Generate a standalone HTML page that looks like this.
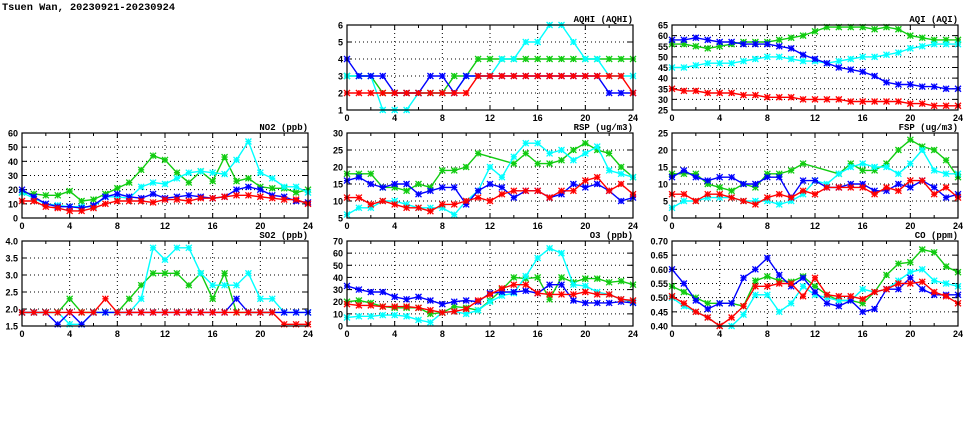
<!DOCTYPE html>
<html><head><meta charset="utf-8"><style>
body{margin:0;background:#fff;width:975px;height:447px;overflow:hidden}
svg{display:block;font-family:"Liberation Sans",sans-serif}
</style></head><body>
<svg id="c" width="975" height="447">
<text x="2" y="10" font-size="10.3" font-weight="bold" font-family="Liberation Mono, monospace">Tsuen Wan, 20230921-20230924</text>
</svg>
<script>
const hours=[0,1,2,3,4,5,6,7,8,9,10,11,12,13,14,15,16,17,18,19,20,21,22,23,24];
const xTicks=[0,4,8,12,16,20,24];
const colors={blue:"#0000ff",green:"#11cc11",cyan:"#00ffff",red:"#ff0000"};
const N=null;
// AQHI
const aqhiBlue=[4,3,3,3,2,2,2,3,3,2,3,3,3,3,3,3,3,3,3,3,3,3,2,2,2];
const aqhiGreen=[3,3,3,2,2,2,2,2,2,3,3,4,4,4,4,4,4,4,4,4,4,4,4,4,4];
const aqhiCyan=[3,3,3,1,1,1,2,2,2,2,3,3,3,4,4,5,5,6,6,5,4,4,3,3,3];
const aqhiRed=[2,2,2,2,2,2,2,2,2,2,2,3,3,3,3,3,3,3,3,3,3,3,3,3,2];
const aqhiTicks=[1,2,3,4,5,6];
// AQI
const aqiBlue=[58,58,59,58,57,57,56,56,56,55,54,51,49,47,45,44,43,41,38,37,37,36,36,35,35];
const aqiGreen=[56,56,55,54,55,56,57,57,57,58,59,60,62,64,64,64,64,63,64,63,60,59,58,58,58];
const aqiCyan=[45,45,46,47,47,47,48,49,50,50,49,48,48,47,48,49,50,50,51,52,54,55,56,56,56];
const aqiRed=[35,34,34,33,33,33,32,32,31,31,31,30,30,30,30,29,29,29,29,29,28,28,27,27,27];
const aqiTicks=[25,30,35,40,45,50,55,60,65];
// NO2
const no2Blue=[20,15,10,8,8,7,9,15,17,15,14,17,14,15,16,15,14,15,20,22,20,16,15,12,11];
const no2Green=[18,17,16,16,19,12,13,17,21,25,34,44,41,32,25,33,26,43,26,28,22,21,21,18,20];
const no2Cyan=[18,14,10,9,8,8,8,15,15,14,22,25,24,28,32,33,32,31,41,54,32,28,22,22,18];
const no2Red=[12,12,8,7,5,5,7,10,12,12,12,11,13,13,12,14,14,15,16,16,15,14,13,13,10];
const no2Ticks=[0,10,20,30,40,50,60];
// RSP
const rspBlue=[16,17,15,14,15,15,12,13,14,14,9,13,15,14,11,13,13,11,12,15,14,15,13,10,11];
const rspGreen=[18,18,18,14,14,13,15,14,19,19,20,24,N,N,21,24,21,21,22,25,27,25,24,20,17];
const rspCyan=[6,8,8,10,10,9,8,8,8,6,10,13,20,17,23,27,27,24,25,22,24,26,19,18,17];
const rspRed=[11,11,9,10,9,8,8,7,9,9,10,11,10,12,13,13,13,11,13,13,16,17,13,15,12];
const rspTicks=[5,10,15,20,25,30];
// FSP
const fspBlue=[12,14,12,11,12,12,10,10,12,12,6,11,11,9,9,10,10,8,8,10,9,11,9,6,7];
const fspGreen=[13,13,13,10,9,8,10,9,13,13,14,16,N,N,13,16,14,14,16,20,23,21,20,17,12];
const fspCyan=[3,5,5,6,6,6,5,5,5,4,5,7,11,10,13,15,16,15,15,13,16,20,14,13,13];
const fspRed=[7,7,5,7,7,6,5,4,6,7,6,8,7,9,9,9,9,7,9,8,11,11,7,9,6];
const fspTicks=[0,5,10,15,20,25];
// SO2
const so2Blue=[1.9,1.9,1.9,1.55,1.9,1.55,1.9,1.9,1.9,1.9,1.9,1.9,1.9,1.9,1.9,1.9,1.9,1.9,2.3,1.9,1.9,1.9,1.9,1.9,1.9];
const so2Green=[1.9,1.9,1.9,1.9,2.3,1.9,1.9,1.9,1.9,2.3,2.7,3.05,3.05,3.05,2.7,3.05,2.3,3.05,1.9,1.9,1.9,1.9,N,N,N];
const so2Cyan=[1.9,1.9,1.9,1.9,1.55,1.55,1.9,1.9,1.9,1.9,2.3,3.8,3.45,3.8,3.8,3.05,2.7,2.7,2.7,3.05,2.3,2.3,1.9,1.9,1.9];
const so2Red=[1.9,1.9,1.9,1.9,1.9,1.9,1.9,2.3,1.9,1.9,1.9,1.9,1.9,1.9,1.9,1.9,1.9,1.9,1.9,1.9,1.9,1.9,1.55,1.55,1.55];
const so2Ticks=[1.5,2.0,2.5,3.0,3.5,4.0];
// O3
const o3Blue=[33,30,28,28,24,22,24,21,18,20,21,20,27,28,28,29,27,34,34,21,19,19,19,20,19];
const o3Green=[20,21,19,16,15,15,15,10,11,16,15,13,21,30,40,39,40,22,40,36,39,39,36,37,34];
const o3Cyan=[7,8,8,9,9,8,5,3,11,12,10,13,20,25,27,41,56,64,60,34,33,28,26,22,20];
const o3Red=[18,17,17,16,16,16,15,13,11,12,14,21,26,31,34,34,27,26,26,26,28,26,26,22,21];
const o3Ticks=[0,10,20,30,40,50,60,70];
// CO
const coBlue=[0.60,0.55,0.49,0.46,0.48,0.48,0.57,0.60,0.64,0.58,0.54,0.57,0.52,0.48,0.47,0.49,0.45,0.46,0.53,0.53,0.57,0.53,0.51,0.51,0.51];
const coGreen=[0.54,0.52,0.50,0.48,0.48,0.48,0.47,0.56,0.575,0.56,0.556,0.575,0.54,0.51,0.49,0.49,0.48,0.52,0.58,0.62,0.625,0.67,0.66,0.61,0.59];
const coCyan=[0.50,0.47,0.45,0.43,0.40,0.40,0.44,0.51,0.51,0.45,0.48,0.54,0.51,0.50,0.49,0.49,0.53,0.52,0.53,0.56,0.59,0.60,0.56,0.55,0.54];
const coRed=[0.505,0.48,0.45,0.43,0.40,0.43,0.47,0.54,0.54,0.55,0.55,0.505,0.57,0.51,0.505,0.505,0.495,0.52,0.53,0.55,0.55,0.556,0.52,0.505,0.48];
const coTicks=[0.40,0.45,0.50,0.55,0.60,0.65,0.70];

const svg=document.getElementById('c');
const NS="http://www.w3.org/2000/svg";
function mk(tag,attrs,parent){const e=document.createElementNS(NS,tag);for(const k in attrs)e.setAttribute(k,attrs[k]);(parent||svg).appendChild(e);return e;}

const panels=[
 {id:"aqhi",title:"AQHI (AQHI)",x:347,y:25,ticks:aqhiTicks,dec:0,series:[aqhiGreen,aqhiCyan,aqhiBlue,aqhiRed]},
 {id:"aqi",title:"AQI (AQI)",x:672,y:25,ticks:aqiTicks,dec:0,series:[aqiGreen,aqiCyan,aqiBlue,aqiRed]},
 {id:"no2",title:"NO2 (ppb)",x:22,y:133,ticks:no2Ticks,dec:0,series:[no2Green,no2Cyan,no2Blue,no2Red]},
 {id:"rsp",title:"RSP (ug/m3)",x:347,y:133,ticks:rspTicks,dec:0,series:[rspGreen,rspCyan,rspBlue,rspRed]},
 {id:"fsp",title:"FSP (ug/m3)",x:672,y:133,ticks:fspTicks,dec:0,series:[fspGreen,fspCyan,fspBlue,fspRed]},
 {id:"so2",title:"SO2 (ppb)",x:22,y:241,ticks:so2Ticks,dec:1,series:[so2Green,so2Cyan,so2Blue,so2Red]},
 {id:"o3",title:"O3 (ppb)",x:347,y:241,ticks:o3Ticks,dec:0,series:[o3Green,o3Cyan,o3Blue,o3Red]},
 {id:"co",title:"CO (ppm)",x:672,y:241,ticks:coTicks,dec:2,series:[coGreen,coCyan,coBlue,coRed]}
];
const sNames=["green","cyan","blue","red"];
const W=286,H=85;
panels.forEach(p=>{
 const g=mk('g',{});
 
 
 const y0=p.ticks[0],y1=p.ticks[p.ticks.length-1];
 const xs=h=>p.x+h/24*W;
 const ys=v=>p.y+H-(v-y0)/(y1-y0)*H;
 p.ticks.forEach((t,i)=>{
  if(i>0&&i<p.ticks.length-1){const l=mk('line',{x1:p.x,x2:p.x+W,y1:ys(t),y2:ys(t),stroke:"#000","stroke-width":1,"stroke-dasharray":"1,3"},g);}
  const tl=mk('text',{x:p.x-4,y:ys(t)+3.5,"font-size":9,"font-weight":"bold","text-anchor":"end"},g);
  
  
  tl.textContent=t.toFixed(p.dec);
  mk('line',{x1:p.x,x2:p.x+5,y1:ys(t),y2:ys(t),stroke:"#000"},g);
  mk('line',{x1:p.x+W-5,x2:p.x+W,y1:ys(t),y2:ys(t),stroke:"#000"},g);
 });
 for(let h=2;h<24;h+=2){
  const len=(h%4===0)?5:3;
  mk('line',{x1:xs(h),x2:xs(h),y1:p.y+H,y2:p.y+H-len,stroke:"#000"},g);
  mk('line',{x1:xs(h),x2:xs(h),y1:p.y,y2:p.y+len,stroke:"#000"},g);
 }
 xTicks.forEach(t=>{
  if(t>0&&t<24){const l=mk('line',{x1:xs(t),x2:xs(t),y1:p.y,y2:p.y+H,stroke:"#000","stroke-dasharray":"1,3"},g);}
  const tl=mk('text',{x:xs(t),y:p.y+H+11,"font-size":9,"font-weight":"bold","text-anchor":"middle"},g);
  
  
  tl.textContent=t;
 });
 const tt=mk('text',{x:p.x+W,y:p.y-3,"font-size":9,"font-weight":"bold","text-anchor":"end","font-family":"Liberation Mono, monospace"},g);
 
 
 tt.textContent=p.title;
 p.series.forEach((arr,si)=>{
  const col=colors[sNames[si]];
  const sg=mk('g',{},g);
  
  
  let d="";
  arr.forEach((v,i)=>{if(v===null)return;d+=(d?"L":"M")+xs(hours[i]).toFixed(1)+","+ys(v).toFixed(1);});
  const pl=mk('path',{d:d,fill:"none",stroke:col,"stroke-width":1.4},sg);
  
  
  arr.forEach((v,i)=>{
   if(v===null)return;
   const cx=xs(hours[i]),cy=ys(v),r=3;
   const m=mk('path',{d:`M${cx-r},${cy-r}L${cx+r},${cy+r}M${cx-r},${cy+r}L${cx+r},${cy-r}M${cx-r},${cy}L${cx+r},${cy}M${cx},${cy-r}L${cx},${cy+r}`,stroke:col,"stroke-width":1.3},sg);
   
   
  });
 });
 const fr=mk('rect',{x:p.x,y:p.y,width:W,height:H,fill:"none",stroke:"#000","stroke-width":1.2},g);
 
 
});
</script>
</body></html>
